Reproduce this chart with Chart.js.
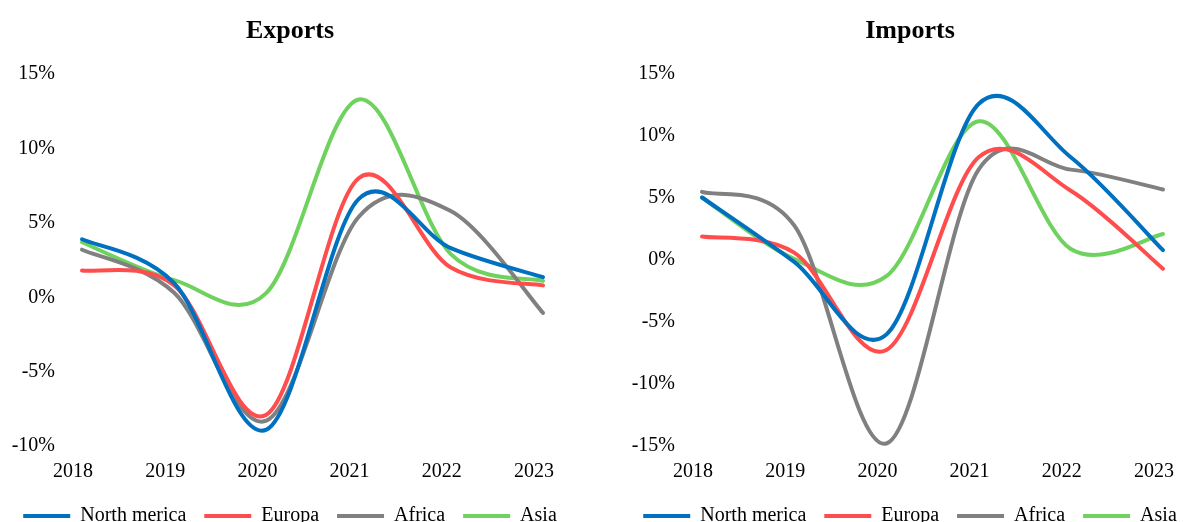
<!DOCTYPE html>
<html>
<head>
<meta charset="utf-8">
<script src="https://cdn.jsdelivr.net/npm/chart.js@4/dist/chart.umd.min.js"></script>
<style>
  html, body { margin: 0; padding: 0; background: #fff; overflow: hidden; width: 1196px; height: 522px; }
  .panel { position: absolute; top: 0; width: 580px; height: 536px; }
  #exportsPanel { left: 0; }
  #importsPanel { left: 620px; }
</style>
</head>
<body>
<div class="panel" id="exportsPanel"><canvas id="exportsChart" width="580" height="536"></canvas></div>
<div class="panel" id="importsPanel"><canvas id="importsChart" width="580" height="536"></canvas></div>
<script>
// Years on the category axis
const years = ['2018', '2019', '2020', '2021', '2022', '2023'];

// Region names shown in the legends
const regionNames = ['North merica', 'Europa', 'Africa', 'Asia'];

// Annual change in exports, in percent
const exportsNorthAmerica = [3.9, 0.95, -8.9, 6.6, 3.3, 1.35];
const exportsEuropa       = [1.8, 0.8, -7.9, 8.0, 2.0, 0.8];
const exportsAfrica       = [3.2, 0.3, -8.3, 5.4, 5.8, -1.05];
const exportsAsia         = [3.7, 1.15, 0.3, 13.3, 2.9, 1.1];

// Annual change in imports, in percent
const importsNorthAmerica = [5.05, -0.15, -6.0, 12.6, 8.3, 0.8];
const importsEuropa       = [1.9, 0.6, -7.25, 8.3, 5.6, -0.7];
const importsAfrica       = [5.5, 2.8, -14.8, 7.3, 7.3, 5.7];
const importsAsia         = [5.05, 0.1, -1.3, 11.2, 0.9, 2.1];

// Value-axis ranges (percent)
const exportsAxis = { min: -10, max: 15, step: 5 };
const importsAxis = { min: -15, max: 15, step: 5 };

const regionColors = ['#0070C0', '#FF4D4D', '#808080', '#6FD25E'];
const serif = "'Liberation Serif', 'Times New Roman', serif";

// Smooth each line with Catmull-Rom style control points (1/6 of the
// neighbour-to-neighbour span), the classic "smoothed line" look.
const smoothLines = {
  id: 'smoothLines',
  beforeDatasetDraw(chart, args) {
    const meta = args.meta;
    const line = meta.dataset;
    const pts = meta.data;
    const n = pts.length;
    for (let i = 0; i < n; i++) {
      const p = pts[i];
      const a = pts[Math.max(i - 1, 0)];
      const b = pts[Math.min(i + 1, n - 1)];
      const dx = (b.x - a.x) / 6;
      const dy = (b.y - a.y) / 6;
      p.cp1x = p.x - dx; p.cp1y = p.y - dy;
      p.cp2x = p.x + dx; p.cp2y = p.y + dy;
    }
    line._pointsUpdated = true;
    line._path = undefined;
  }
};

function buildChart(canvasId, titleText, seriesList, axis) {
  const datasets = seriesList.map((values, i) => ({
    label: regionNames[i],
    data: values,
    yAxisID: 'y',
    borderColor: regionColors[i],
    backgroundColor: regionColors[i],
    borderWidth: 4,
    borderCapStyle: 'round',
    borderJoinStyle: 'round',
    pointRadius: 0,
    pointHoverRadius: 0,
    tension: 0.4,
    fill: false,
    clip: false
  }));

  return new Chart(document.getElementById(canvasId), {
    type: 'line',
    data: { labels: years, datasets },
    plugins: [smoothLines],
    options: {
      responsive: false,
      animation: false,
      devicePixelRatio: 1,
      layout: { padding: 0 },
      plugins: {
        title: {
          display: true,
          text: titleText,
          color: '#000',
          font: { family: serif, size: 26, weight: 'bold' },
          padding: { top: 16, bottom: 27 }
        },
        legend: {
          display: true,
          position: 'bottom',
          labels: {
            color: '#000',
            font: { family: serif, size: 20 },
            usePointStyle: true,
            pointStyle: 'line',
            pointStyleWidth: 47,
            padding: 18
          }
        },
        tooltip: { enabled: false }
      },
      scales: {
        x: {
          type: 'category',
          offset: false,
          grid: { display: false, drawTicks: false },
          border: { display: false },
          ticks: {
            color: '#000',
            font: { family: serif, size: 20 },
            padding: 14,
            labelOffset: -9,
            maxRotation: 0,
            autoSkip: false
          },
          afterFit: (scale) => { scale.height = 42; }
        },
        y: {
          position: 'left',
          min: axis.min,
          max: axis.max,
          grid: { display: false, drawTicks: false },
          border: { display: false },
          ticks: {
            stepSize: axis.step,
            color: '#000',
            font: { family: serif, size: 20 },
            padding: 27,
            callback: (v) => v + '%'
          },
          afterFit: (scale) => { scale.width = 82; }
        },
        // empty right-hand margin axis (keeps plot area clear of the edge)
        yMargin: {
          position: 'right',
          min: axis.min,
          max: axis.max,
          grid: { display: false, drawTicks: false },
          border: { display: false },
          ticks: { display: false },
          afterFit: (scale) => { scale.width = 37; }
        }
      }
    }
  });
}

buildChart('exportsChart', 'Exports',
  [exportsNorthAmerica, exportsEuropa, exportsAfrica, exportsAsia], exportsAxis);
buildChart('importsChart', 'Imports',
  [importsNorthAmerica, importsEuropa, importsAfrica, importsAsia], importsAxis);
</script>
</body>
</html>
